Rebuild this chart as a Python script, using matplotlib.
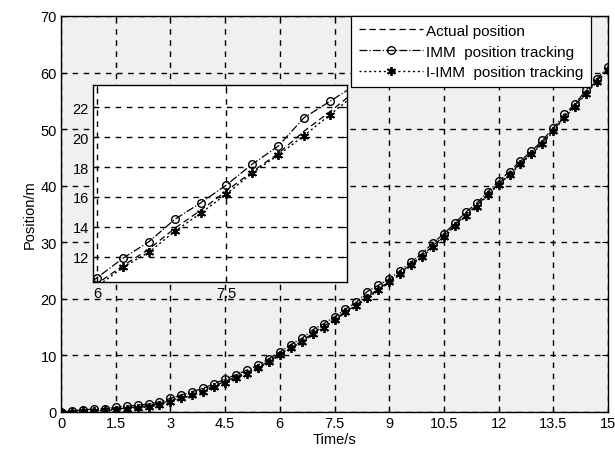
import numpy as np
import matplotlib
matplotlib.use("Agg")
import matplotlib.pyplot as plt

plt.rcParams['font.family'] = ['Liberation Sans', 'DejaVu Sans']

time_s = [0.0, 0.3, 0.6, 0.9, 1.2, 1.5, 1.8, 2.1, 2.4, 2.7, 3.0, 3.3, 3.6, 3.9, 4.2,
          4.5, 4.8, 5.1, 5.4, 5.7, 6.0, 6.3, 6.6, 6.9, 7.2, 7.5, 7.8, 8.1, 8.4, 8.7,
          9.0, 9.3, 9.6, 9.9, 10.2, 10.5, 10.8, 11.1, 11.4, 11.7, 12.0, 12.3, 12.6,
          12.9, 13.2, 13.5, 13.8, 14.1, 14.4, 14.7, 15.0]

actual_pos = [0.0, 0.1, 0.2, 0.3, 0.4, 0.5, 0.7, 0.9, 1.1, 1.5, 2.0, 2.6, 3.2, 3.8, 4.6,
              5.4, 6.2, 7.0, 7.9, 9.0, 10.2, 11.4, 12.5, 13.9, 15.1, 16.4, 17.7, 18.9,
              20.4, 21.7, 23.1, 24.6, 26.1, 27.6, 29.4, 31.1, 33.0, 34.9, 36.5, 38.5,
              40.4, 42.1, 44.0, 45.8, 47.6, 49.8, 52.2, 54.2, 56.5, 58.6, 60.6]

imm_pos = [0.0, 0.2, 0.4, 0.5, 0.6, 0.8, 1.0, 1.2, 1.4, 1.8, 2.4, 3.0, 3.6, 4.2, 5.0,
           5.8, 6.6, 7.4, 8.3, 9.4, 10.6, 11.9, 13.0, 14.5, 15.6, 16.8, 18.2, 19.4,
           21.3, 22.4, 23.5, 25.0, 26.5, 28.0, 29.9, 31.5, 33.4, 35.3, 36.9, 38.9,
           40.8, 42.5, 44.4, 46.1, 48.0, 50.2, 52.6, 54.5, 56.9, 58.9, 61.0]

iimm_pos = [0.0, 0.0, 0.1, 0.2, 0.3, 0.3, 0.5, 0.7, 0.9, 1.3, 1.8, 2.4, 3.0, 3.6, 4.4,
            5.2, 6.0, 6.8, 7.7, 8.8, 10.0, 11.3, 12.3, 13.7, 14.9, 16.2, 17.6, 18.8,
            20.1, 21.5, 22.9, 24.4, 25.9, 27.4, 29.2, 30.9, 32.8, 34.7, 36.3, 38.3,
            40.2, 41.9, 43.8, 45.6, 47.4, 49.6, 52.0, 54.0, 56.3, 58.4, 60.4]

labels = ['Actual position', 'IMM  position tracking', 'I-IMM  position tracking']
x_ticks = [0, 1.5, 3, 4.5, 6, 7.5, 9, 10.5, 12, 13.5, 15]
x_tick_labels = ['0', '1.5', '3', '4.5', '6', '7.5', '9', '10.5', '12', '13.5', '15']
y_ticks = [0, 10, 20, 30, 40, 50, 60, 70]
inset_x_ticks = [6, 7.5]
inset_x_tick_labels = ['6', '7.5']
inset_y_ticks = [12, 14, 16, 18, 20, 22]

W, H = 615, 456
fig = plt.figure(figsize=(W / 100, H / 100), dpi=100)
fig.patch.set_facecolor('white')

FS = 10.5

L, R, T, B = 61, 608, 17, 413
ax = fig.add_axes([L / W, 1 - B / H, (R - L) / W, (B - T) / H])
ax.set_facecolor('#f0f0f0')

asterisk = (6, 2, 0)

def draw(a):
    a.plot(time_s, actual_pos, color='black', linestyle=(0, (5, 3)), linewidth=0.9,
           label=labels[0])
    a.plot(time_s, imm_pos, color='black', linestyle='-.', linewidth=0.9, marker='o',
           markersize=5.5, markerfacecolor='none', markeredgewidth=1.0,
           label=labels[1])
    a.plot(time_s, iimm_pos, color='black', linestyle=(0, (1.5, 2)), linewidth=1.0,
           marker=asterisk, markersize=6.5, markeredgewidth=1.3,
           label=labels[2])

draw(ax)
ax.set_xlim(0, 15)
ax.set_ylim(0, 70)
ax.set_xticks(x_ticks)
ax.set_xticklabels(x_tick_labels)
ax.set_yticks(y_ticks)
ax.tick_params(direction='in', length=4, width=0.8, labelsize=FS, pad=3,
               top=True, right=True)
ax.grid(True, color='black', linestyle=(0, (4, 4)), linewidth=1.0)
for s in ax.spines.values():
    s.set_linewidth(1.0)
ax.set_xlabel('Time/s', fontsize=FS, labelpad=1)
ax.set_ylabel('Position/m', fontsize=FS, labelpad=3)

leg = ax.legend(loc='upper right', bbox_to_anchor=((591 - L) / (R - L), 1.0),
                borderaxespad=0, fontsize=11, handlelength=4.2, labelspacing=0.45,
                frameon=True, fancybox=False, edgecolor='black', framealpha=1,
                borderpad=0.5, handletextpad=0.2)
leg.get_frame().set_linewidth(0.9)

# inset
iL, iR, iT, iB = 93, 347, 86, 283
axin = fig.add_axes([iL / W, 1 - iB / H, (iR - iL) / W, (iB - iT) / H])
axin.set_facecolor('white')
draw(axin)
axin.set_xlim(5.95, 8.9)
axin.set_ylim(10.3, 23.5)
axin.set_xticks(inset_x_ticks)
axin.set_xticklabels(inset_x_tick_labels)
axin.set_yticks(inset_y_ticks)
axin.tick_params(direction='in', length=4, width=0.8, labelsize=FS, pad=3,
                 top=True, right=True)
axin.grid(True, color='black', linestyle=(0, (4, 4)), linewidth=1.0)
for s in axin.spines.values():
    s.set_linewidth(1.0)

fig.savefig('out.png', dpi=100, facecolor='white')
